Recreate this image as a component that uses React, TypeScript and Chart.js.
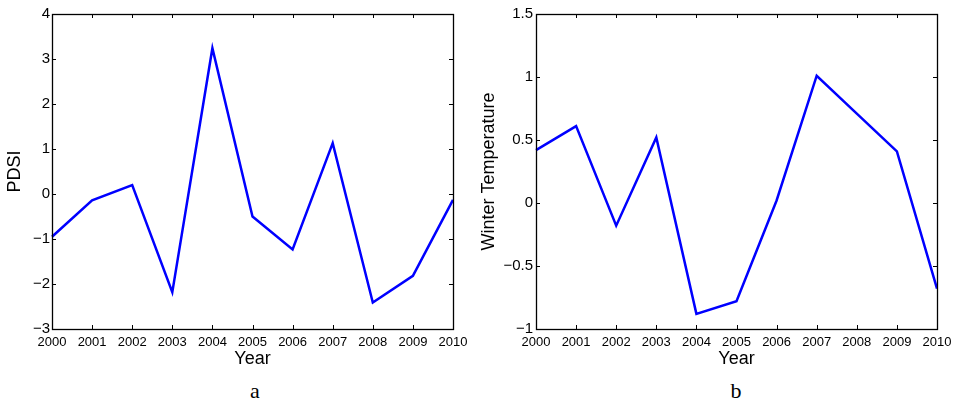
import React, { useEffect, useRef } from "react";
import { Chart, registerables } from "chart.js";

Chart.register(...registerables);

const years = ["2000", "2001", "2002", "2003", "2004", "2005", "2006", "2007", "2008", "2009", "2010"];
const pdsiValues = [-0.95, -0.14, 0.2, -2.18, 3.24, -0.5, -1.23, 1.13, -2.41, -1.82, -0.13];
const winterTempValues = [0.42, 0.61, -0.18, 0.52, -0.88, -0.78, 0.02, 1.01, 0.71, 0.41, -0.68];
const pdsiTicks = { min: -3, max: 4, step: 1 };
const tempTicks = { min: -1, max: 1.5, step: 0.5 };

const SANS = "'Liberation Sans', Arial, Helvetica, sans-serif";

const boxTicks = {
  id: "boxTicks",
  afterDatasetsDraw(chart: any) {
    const { ctx, chartArea: a, scales } = chart;
    const L = 4;
    ctx.save();
    ctx.strokeStyle = "#000";
    ctx.lineWidth = 1;
    ctx.beginPath();
    scales.x.ticks.forEach((_t: any, i: number) => {
      const px = Math.round(scales.x.getPixelForTick(i)) + 0.5;
      ctx.moveTo(px, a.bottom);
      ctx.lineTo(px, a.bottom - L);
      ctx.moveTo(px, a.top);
      ctx.lineTo(px, a.top + L);
    });
    scales.y.ticks.forEach((_t: any, i: number) => {
      const py = Math.round(scales.y.getPixelForTick(i)) + 0.5;
      ctx.moveTo(a.left, py);
      ctx.lineTo(a.left + L, py);
      ctx.moveTo(a.right, py);
      ctx.lineTo(a.right - L, py);
    });
    ctx.stroke();
    ctx.lineWidth = 1.3;
    ctx.strokeRect(Math.round(a.left) + 0.5, Math.round(a.top) + 0.5, Math.round(a.right - a.left), Math.round(a.bottom - a.top));
    ctx.restore();
  },
};

type PanelProps = {
  values: number[];
  yTitle: string;
  ticks: { min: number; max: number; step: number };
  yAxisWidth: number;
  rightPad: number;
  yTitlePad: number;
  yTickPad: number;
};

function Panel({ values, yTitle, ticks, yAxisWidth, rightPad, yTitlePad, yTickPad }: PanelProps) {
  const ref = useRef<HTMLCanvasElement>(null);
  useEffect(() => {
    if (!ref.current) return;
    const chart = new Chart(ref.current, {
      type: "line",
      data: {
        labels: years,
        datasets: [
          {
            data: values,
            borderColor: "#0000ff",
            borderWidth: 2.5,
            pointRadius: 0,
            tension: 0,
            fill: false,
          },
        ],
      },
      options: {
        animation: false,
        responsive: false,
        maintainAspectRatio: false,
        layout: { padding: { top: 14, right: rightPad, left: 0, bottom: 0 } },
        plugins: { legend: { display: false }, tooltip: { enabled: false } },
        scales: {
          x: {
            type: "category",
            offset: false,
            grid: { display: false, drawTicks: false },
            border: { display: false },
            ticks: {
              color: "#000",
              font: { family: SANS, size: 13 },
              padding: 6,
              maxRotation: 0,
              autoSkip: false,
            },
            title: {
              display: true,
              text: "Year",
              color: "#000",
              font: { family: SANS, size: 18 },
              padding: { top: 0, bottom: 0 },
            },
            afterFit: (s: any) => {
              s.height = 41;
            },
          },
          y: {
            min: ticks.min,
            max: ticks.max,
            grid: { display: false, drawTicks: false },
            border: { display: false },
            ticks: {
              stepSize: ticks.step,
              color: "#000",
              font: { family: SANS, size: 15 },
              padding: yTickPad,
              callback: (v: any) => String(Math.round(Number(v) * 10) / 10).replace("-", "\u2212"),
            },
            title: {
              display: true,
              text: yTitle,
              color: "#000",
              font: { family: SANS, size: 18 },
              padding: { top: yTitlePad, bottom: 0 },
            },
            afterFit: (s: any) => {
              s.width = yAxisWidth;
            },
          },
        },
      },
      plugins: [boxTicks],
    } as any);
    return () => chart.destroy();
  }, []);
  return <canvas ref={ref} width={480} height={370} style={{ width: 480, height: 370, display: "block" }} />;
}

export default function App() {
  return (
    <div style={{ position: "fixed", left: 0, top: 0, width: 958, height: 406, background: "#fff", overflow: "hidden" }}>
      <div style={{ position: "absolute", left: 0, top: 0 }}>
        <Panel values={pdsiValues} yTitle="PDSI" ticks={pdsiTicks} yAxisWidth={52} rightPad={27} yTitlePad={4} yTickPad={2} />
      </div>
      <div style={{ position: "absolute", left: 478, top: 0 }}>
        <Panel values={winterTempValues} yTitle="Winter Temperature" ticks={tempTicks} yAxisWidth={58} rightPad={21} yTitlePad={0} yTickPad={3} />
      </div>
      <div style={{ position: "absolute", left: 235, width: 40, top: 378, textAlign: "center", fontFamily: "'Liberation Serif', 'DejaVu Serif', serif", fontSize: 22, lineHeight: "26px", color: "#000" }}>
        a
      </div>
      <div style={{ position: "absolute", left: 716, width: 40, top: 378, textAlign: "center", fontFamily: "'Liberation Serif', 'DejaVu Serif', serif", fontSize: 22, lineHeight: "26px", color: "#000" }}>
        b
      </div>
    </div>
  );
}
